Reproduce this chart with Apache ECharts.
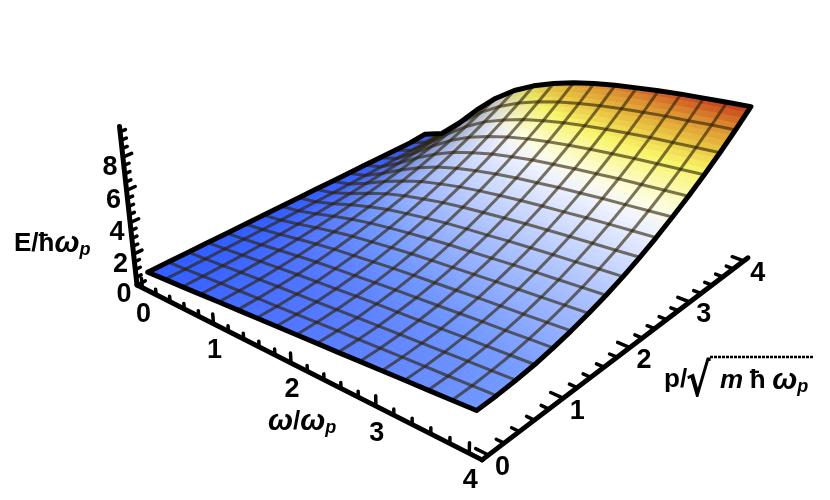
<!DOCTYPE html>
<html>
<head>
<meta charset="utf-8">
<style>
  html, body { margin: 0; padding: 0; background: #fff; }
  #chart { width: 830px; height: 500px; }
</style>
<script src="https://cdn.jsdelivr.net/npm/echarts@6/dist/echarts.min.js"></script>
</head>
<body>
<div id="chart"></div>
<script>
// mesh positions of the surface
const omegaGrid = [0, 0.25, 0.5, 0.75, 1, 1.25, 1.5, 1.75, 2, 2.25, 2.5, 2.75, 3, 3.25, 3.5, 3.75, 4]
const momentumGrid = [0, 0.25, 0.5, 0.75, 1, 1.25, 1.5, 1.75, 2, 2.25, 2.5, 2.75, 3, 3.25, 3.5, 3.75, 4]

// E per mesh node, one row per momentum
const energyRows = [
  [0.80, 0.89, 0.97, 1.06, 1.15, 1.24, 1.32, 1.41, 1.50, 1.59, 1.67, 1.76, 1.85, 1.94, 2.02, 2.11, 2.20],
  [0.80, 0.89, 0.98, 1.07, 1.17, 1.26, 1.34, 1.43, 1.53, 1.62, 1.70, 1.79, 1.88, 1.97, 2.05, 2.14, 2.23],
  [0.80, 0.90, 1.00, 1.11, 1.21, 1.32, 1.41, 1.50, 1.60, 1.69, 1.78, 1.87, 1.96, 2.05, 2.14, 2.23, 2.32],
  [0.80, 0.91, 1.03, 1.16, 1.29, 1.41, 1.51, 1.62, 1.73, 1.83, 1.91, 2.00, 2.09, 2.19, 2.27, 2.36, 2.45],
  [0.80, 0.92, 1.07, 1.24, 1.40, 1.55, 1.67, 1.78, 1.89, 2.00, 2.09, 2.19, 2.29, 2.39, 2.47, 2.57, 2.66],
  [0.80, 0.94, 1.13, 1.34, 1.54, 1.72, 1.85, 1.99, 2.12, 2.23, 2.33, 2.43, 2.53, 2.63, 2.72, 2.82, 2.92],
  [0.80, 0.96, 1.20, 1.47, 1.71, 1.93, 2.09, 2.25, 2.39, 2.51, 2.62, 2.73, 2.84, 2.94, 3.03, 3.13, 3.23],
  [0.80, 0.98, 1.28, 1.61, 1.92, 2.17, 2.37, 2.55, 2.71, 2.85, 2.96, 3.08, 3.20, 3.31, 3.40, 3.50, 3.60],
  [0.80, 1.01, 1.37, 1.78, 2.15, 2.46, 2.69, 2.90, 3.08, 3.23, 3.35, 3.49, 3.61, 3.72, 3.82, 3.93, 4.03],
  [0.80, 1.04, 1.48, 1.97, 2.42, 2.77, 3.05, 3.30, 3.50, 3.66, 3.81, 3.95, 4.08, 4.19, 4.30, 4.41, 4.52],
  [0.80, 1.07, 1.60, 2.19, 2.71, 3.14, 3.46, 3.74, 3.96, 4.15, 4.31, 4.46, 4.59, 4.73, 4.84, 4.95, 5.06],
  [0.80, 1.11, 1.73, 2.42, 3.04, 3.54, 3.92, 4.22, 4.48, 4.69, 4.86, 5.03, 5.17, 5.31, 5.43, 5.55, 5.67],
  [0.80, 1.16, 1.87, 2.68, 3.40, 3.98, 4.40, 4.76, 5.04, 5.28, 5.47, 5.64, 5.80, 5.95, 6.07, 6.20, 6.32],
  [0.80, 1.20, 2.03, 2.96, 3.79, 4.45, 4.94, 5.34, 5.66, 5.92, 6.13, 6.32, 6.49, 6.65, 6.78, 6.91, 7.04],
  [0.80, 1.25, 2.20, 3.27, 4.21, 4.97, 5.52, 5.97, 6.32, 6.61, 6.84, 7.05, 7.23, 7.40, 7.54, 7.68, 7.81],
  [0.80, 1.31, 2.38, 3.59, 4.67, 5.51, 6.15, 6.64, 7.04, 7.35, 7.61, 7.83, 8.03, 8.21, 8.35, 8.51, 8.64],
  [0.90, 1.39, 2.57, 3.94, 5.15, 6.10, 6.81, 7.36, 7.80, 8.15, 8.43, 8.66, 8.88, 9.07, 9.23, 9.39, 9.53]
]

// axis ticks
const omegaTicks = [0, 0.2, 0.4, 0.6, 0.8, 1, 1.2, 1.4, 1.6, 1.8, 2, 2.2, 2.4, 2.6, 2.8, 3, 3.2, 3.4, 3.6, 3.8, 4]
const momentumTicks = [0, 0.2, 0.4, 0.6, 0.8, 1, 1.2, 1.4, 1.6, 1.8, 2, 2.2, 2.4, 2.6, 2.8, 3, 3.2, 3.4, 3.6, 3.8, 4]
const energyTicks = [0, 0.5, 1, 1.5, 2, 2.5, 3, 3.5, 4, 4.5, 5, 5.5, 6, 6.5, 7, 7.5, 8, 8.5, 9, 9.5]
const omegaLabels = [0, 1, 2, 3, 4]
const momentumLabels = [0, 1, 2, 3, 4]
const energyLabels = [0, 2, 4, 6, 8]

// colour along E
const colorEnergy = [0.8, 1.55, 2.2, 2.8, 4.1, 5.2, 5.8, 7.1, 7.9, 8.6, 9.4]
const colorValues = ['#2f5bff', '#5579ff', '#7096ff', '#92aeff', '#c8d6ff', '#f0f3ff', '#fdfde0', '#f8f468', '#e8c040', '#dc8f30', '#c8401c']

// perspective of the box, vanishing points of the three edges
const corner = [137, 285]
const vanishOmega = [-1493, -541]
const vanishMomentum = [1803, -544]
const vanishEnergy = [415, 2804]
const rateOmega = -0.0415
const rateMomentum = 0.05
const rateEnergy = -0.00604
const pad = 0.08
const boxMaxOmega = 4.13
const boxMaxMomentum = 4.08
const topEnergy = 9.8

const FONT = '"Liberation Sans", Arial, sans-serif'
const SUB = 4

// (omega, p, E) -> position on the hidden pixel axes
const project = (omega, p, e) => {
  const a = (omega + pad) * rateOmega
  const b = (p + pad) * rateMomentum
  const c = e * rateEnergy
  const w = 1 + a + b + c
  return [
    (corner[0] + a * vanishOmega[0] + b * vanishMomentum[0] + c * vanishEnergy[0]) / w,
    (corner[1] + a * vanishOmega[1] + b * vanishMomentum[1] + c * vanishEnergy[1]) / w
  ]
}

// the upper part away from the right edge turns orange earlier
const colorOf = (e, omega) => {
  const warm = 0.25 * (4 - omega) * Math.max(0, Math.min(1, (e - 5) / 2))
  const v = e + warm
  let i = 0
  while (i < colorEnergy.length - 2 && v > colorEnergy[i + 1]) i++
  const t = Math.max(0, Math.min(1, (v - colorEnergy[i]) / (colorEnergy[i + 1] - colorEnergy[i])))
  return echarts.color.lerp(t, [colorValues[i], colorValues[i + 1]])
}

// slope along omega darkens the steep side of the ridge
const slopeAt = (i, j) => {
  const a = Math.max(i - 1, 0)
  const b = Math.min(i + 1, omegaGrid.length - 1)
  return (energyRows[j][b] - energyRows[j][a]) / (omegaGrid[b] - omegaGrid[a])
}

const shade = (color, s) => {
  const k = 0.42 + 0.58 / Math.sqrt(1 + Math.pow(Math.max(s - 1, 0) / 2.2, 2))
  const c = echarts.color.parse(color)
  return 'rgb(' + Math.round(c[0] * k) + ',' + Math.round(c[1] * k) + ',' + Math.round(c[2] * k) + ')'
}

const energyAt = (i, j, s, t) => {
  const r = energyRows
  return r[j][i] * (1 - s) * (1 - t) + r[j][i + 1] * s * (1 - t) + r[j + 1][i] * (1 - s) * t + r[j + 1][i + 1] * s * t
}

// cells from far to near
const cellData = []
for (let j = momentumGrid.length - 2; j >= 0; j--) {
  for (let i = 0; i < omegaGrid.length - 1; i++) cellData.push([i, j])
}

const renderCell = (params, api) => {
  const i = api.value(0)
  const j = api.value(1)
  const om0 = omegaGrid[i], om1 = omegaGrid[i + 1]
  const p0 = momentumGrid[j], p1 = momentumGrid[j + 1]
  const pt = (s, t) => {
    const xy = project(om0 + (om1 - om0) * s, p0 + (p1 - p0) * t, energyAt(i, j, s, t))
    return api.coord(xy)
  }
  const slope = (s, t) =>
    slopeAt(i, j) * (1 - s) * (1 - t) + slopeAt(i + 1, j) * s * (1 - t) +
    slopeAt(i, j + 1) * (1 - s) * t + slopeAt(i + 1, j + 1) * s * t
  const children = []
  for (let b = SUB - 1; b >= 0; b--) {
    for (let a = 0; a < SUB; a++) {
      const s0 = a / SUB, s1 = (a + 1) / SUB, t0 = b / SUB, t1 = (b + 1) / SUB
      const mids = (s0 + s1) / 2, midt = (t0 + t1) / 2
      const color = colorOf(energyAt(i, j, mids, midt), om0 + (om1 - om0) * mids)
      const fill = shade(color, slope(mids, midt))
      children.push({
        type: 'polygon',
        shape: { points: [pt(s0, t0), pt(s1, t0), pt(s1, t1), pt(s0, t1)] },
        style: { fill: fill, stroke: fill, lineWidth: 0.8 }
      })
    }
  }
  return { type: 'group', children: children }
}

// mesh and outline lines
const meshData = []
for (let k = 1; k < omegaGrid.length - 1; k++) meshData.push(['omega', k])
for (let k = 1; k < momentumGrid.length - 1; k++) meshData.push(['p', k])

const renderPolyline = (api, points, color, width) => ({
  type: 'polyline',
  shape: { points: points.map((q) => api.coord(q)) },
  style: { fill: null, stroke: color, lineWidth: width, lineJoin: 'round', lineCap: 'round' }
})

const omegaLine = (k) => energyRows.map((row, j) => project(omegaGrid[k], momentumGrid[j], row[k]))
const momentumLine = (k) => omegaGrid.map((om, i) => project(om, momentumGrid[k], energyRows[k][i]))

const renderMesh = (params, api) => {
  const k = api.value(1)
  const kind = meshData[params.dataIndex][0]
  return renderPolyline(api, kind === 'omega' ? omegaLine(k) : momentumLine(k), 'rgba(45,32,5,0.62)', 3)
}

const renderOutline = (params, api) => {
  const last = momentumGrid.length - 1
  const ring = momentumLine(0)
    .concat(omegaLine(omegaGrid.length - 1))
    .concat(momentumLine(last).reverse())
    .concat(omegaLine(0).reverse())
  return renderPolyline(api, ring, '#000', 5)
}

// box edges with ticks
const edgeData = ['omega', 'p', 'e']
const renderEdge = (params, api) => {
  const kind = edgeData[params.dataIndex]
  const children = []
  const tick = (from, to) => children.push(renderPolyline(api, [from, to], '#000', 3.5))
  if (kind === 'omega') {
    children.push(renderPolyline(api, [project(-pad, -pad, 0), project(boxMaxOmega, -pad, 0)], '#000', 5))
    omegaTicks.forEach((v) => {
      const h = omegaLabels.includes(v) ? 0.62 : 0.36
      tick(project(v, -pad, 0), project(v, -pad, h))
    })
  } else if (kind === 'p') {
    children.push(renderPolyline(api, [project(boxMaxOmega, -pad, 0), project(boxMaxOmega, boxMaxMomentum, 0)], '#000', 5))
    momentumTicks.forEach((v) => {
      const h = momentumLabels.includes(v) ? 0.13 : 0.08
      tick(project(boxMaxOmega, v, 0), project(boxMaxOmega - h, v, 0))
    })
  } else {
    children.push(renderPolyline(api, [project(-pad, -pad, 0), project(-pad, -pad, topEnergy)], '#000', 5))
    energyTicks.forEach((v) => {
      const h = energyLabels.includes(v) ? 0.1 : 0.06
      tick(project(-pad, -pad, v), project(-pad, -pad + h, v))
    })
  }
  return { type: 'group', children: children }
}

// tick numbers sit next to their edge
const labelData = []
omegaLabels.forEach((v) => labelData.push(['omega', v]))
momentumLabels.forEach((v) => labelData.push(['p', v]))
energyLabels.forEach((v) => labelData.push(['e', v]))

const renderLabel = (params, api) => {
  const item = labelData[params.dataIndex]
  let q, dx, dy
  if (item[0] === 'omega') { q = project(item[1], -pad, 0); dx = 1; dy = 27 }
  else if (item[0] === 'p') { q = project(boxMaxOmega, item[1], 0); dx = 14; dy = 13 }
  else { q = project(-pad, -pad, item[1]); dx = -13; dy = 10 }
  const c = api.coord(q)
  return {
    type: 'text',
    x: c[0] + dx,
    y: c[1] + dy,
    style: { text: String(item[1]), fill: '#000', font: 'bold 27px ' + FONT, align: 'center', verticalAlign: 'middle' }
  }
}

const chart = echarts.init(document.getElementById('chart'))

const customBase = {
  type: 'custom',
  coordinateSystem: 'cartesian2d',
  silent: true,
  clip: false,
  animation: false,
  encode: { x: [], y: [] }
}

const titleRich = {
  b: { font: 'bold 26px ' + FONT, fill: '#000' },
  i: { font: 'italic bold 26px ' + FONT, fill: '#000' },
  w: { font: 'italic bold 30px ' + FONT, fill: '#000' },
  g: { font: 'bold 24px ' + FONT, fill: '#000' },
  s: { font: 'italic bold 18px ' + FONT, fill: '#000', verticalAlign: 'bottom', padding: [12, 0, 0, 0] }
}

chart.setOption({
  backgroundColor: '#fff',
  animation: false,
  grid: { left: 0, right: 0, top: 0, bottom: 0 },
  xAxis: { type: 'value', min: 0, max: 830, show: false },
  yAxis: { type: 'value', min: 0, max: 500, inverse: true, show: false },
  series: [
    { ...customBase, name: 'edges', data: edgeData.map((d, i) => [i, 0]), renderItem: renderEdge },
    { ...customBase, name: 'surface', data: cellData, renderItem: renderCell },
    { ...customBase, name: 'mesh', data: meshData.map((d) => [0, d[1]]), renderItem: renderMesh },
    { ...customBase, name: 'outline', data: [[0, 0]], renderItem: renderOutline },
    { ...customBase, name: 'labels', data: labelData.map((d) => [0, d[1]]), renderItem: renderLabel }
  ],
  graphic: [
    { type: 'text', x: 14, y: 229, style: { text: '{b|E/ħ}{w|ω}{s|p}', rich: titleRich } },
    { type: 'text', x: 268, y: 407, style: { text: '{w|ω}{b|/}{w|ω}{s|p}', rich: titleRich } },
    { type: 'text', x: 664, y: 367, style: { text: '{b|p/}', rich: titleRich } },
    { type: 'text', x: 686, y: 361, scaleX: 0.8, style: { text: '√', font: 'bold 46px "DejaVu Sans"', fill: '#000' } },
    { type: 'text', x: 720, y: 366, style: { text: '{i|m}{g| }{b|ħ}{g| }{w|ω}{s|p}', rich: titleRich } },
    { type: 'line', shape: { x1: 710, y1: 357, x2: 813, y2: 357 }, style: { stroke: '#000', lineWidth: 2.5, lineDash: [3, 1] } }
  ]
})
</script>
</body>
</html>
